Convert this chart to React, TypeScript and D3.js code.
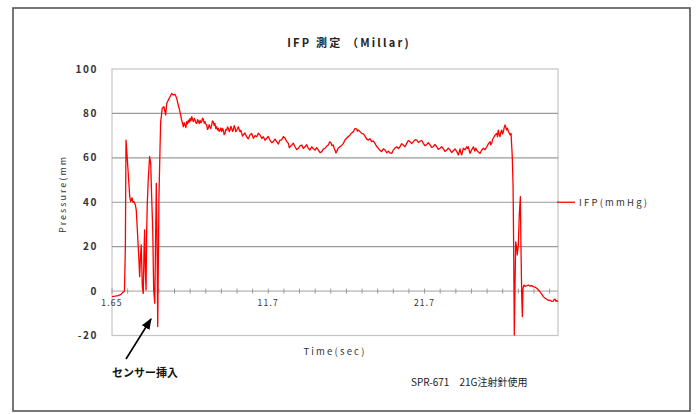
import * as d3 from "d3";

// insertion phase: time (sec) / pressure (mmHg)
const insertTime = [
  1.65, 1.84, 2.04, 2.23, 2.36, 2.45, 2.51, 2.55, 2.61, 2.68, 2.79, 2.85, 2.94, 3.0, 3.06, 3.15, 3.21, 3.28,
  3.37, 3.43, 3.47, 3.53, 3.6, 3.66, 3.71, 3.75, 3.79, 3.84, 3.88, 3.92, 3.98, 4.07, 4.14, 4.2, 4.27, 4.33,
  4.4, 4.46, 4.5, 4.54, 4.59, 4.63, 4.67, 4.74, 4.78, 4.83, 4.88, 4.99, 5.1, 5.17, 5.27, 5.38, 5.49, 5.59,
  5.7, 5.81, 5.91, 6.02, 6.13,
];
const insertValue = [
  -2.5, -2.3, -2.0, -1.5, -0.5, 0, 20, 68, 62, 54.5, 42.5, 40.3, 42, 40, 40.3, 38.8, 36.5, 27.5,
  15.5, 6.5, 14, 20.8, 2, -1, 18.5, 27.5, 9.5, 0.5, 27.5, 39.6, 50, 60.5, 57.5, 42.5, 27.5, 0.5,
  -5.5, 27.5, 48.5, 27.5, -16, 12.5, 42.5, 65, 76.3, 79, 82.3, 83, 79.3, 84.5, 86, 87.5, 89, 88.3,
  88.6, 86.8, 83.8, 80.8, 77,
];

// plateau phase
const plateauTime = [
  6.24, 6.29, 6.34, 6.4, 6.45, 6.5, 6.56, 6.61, 6.67, 6.72, 6.78, 6.83, 6.88, 6.94, 6.99, 7.04, 7.1, 7.15,
  7.2, 7.26, 7.31, 7.36, 7.42, 7.47, 7.52, 7.58, 7.63, 7.68, 7.74, 7.79, 7.84, 7.9, 7.95, 8.0, 8.06, 8.11,
  8.16, 8.22, 8.27, 8.32, 8.38, 8.43, 8.49, 8.54, 8.6, 8.65, 8.7, 8.76, 8.81, 8.86, 8.92, 8.97, 9.03, 9.08,
  9.13, 9.19, 9.24, 9.29, 9.35, 9.4, 9.45, 9.51, 9.56, 9.61, 9.67, 9.72, 9.77, 9.83, 9.88, 9.93, 9.99, 10.04,
  10.09, 10.2, 10.31, 10.41, 10.52, 10.63, 10.74, 10.85, 10.96, 11.06, 11.17, 11.28, 11.38, 11.49, 11.6,
  11.7, 11.81, 11.92, 12.02, 12.13, 12.24, 12.35, 12.45, 12.56, 12.67, 12.78, 12.89, 12.99, 13.05, 13.1,
  13.21, 13.31, 13.42, 13.53, 13.63, 13.74, 13.85, 13.95, 14.06, 14.17, 14.27, 14.38, 14.49, 14.6, 14.71,
  14.81, 14.92, 15.03, 15.14, 15.24, 15.35, 15.46, 15.56, 15.65, 15.73, 15.8, 15.88, 15.94, 15.99, 16.05,
  16.1, 16.2, 16.31, 16.42, 16.53, 16.63, 16.74, 16.85, 16.96, 17.06, 17.17, 17.28, 17.39, 17.44, 17.49,
  17.6, 17.71, 17.82, 17.92, 18.03, 18.13, 18.24, 18.35, 18.45, 18.56, 18.67, 18.78, 18.88, 18.99, 19.1,
  19.21, 19.31, 19.42, 19.53, 19.64, 19.74, 19.85, 19.96, 20.07, 20.17, 20.28, 20.38, 20.49, 20.6, 20.7,
  20.81, 20.92, 21.03, 21.14, 21.25, 21.35, 21.46, 21.57, 21.67, 21.78, 21.89, 21.99, 22.1, 22.21, 22.31,
  22.42, 22.53, 22.63, 22.74, 22.85, 22.96, 23.06, 23.17, 23.28, 23.39, 23.49, 23.6, 23.71, 23.82, 23.92,
  23.98, 24.03, 24.08, 24.14, 24.19, 24.24, 24.35, 24.46, 24.51, 24.56, 24.62, 24.67, 24.78, 24.89, 24.94,
  24.99, 25.04, 25.1, 25.21, 25.32, 25.42, 25.53, 25.64, 25.75, 25.85, 25.96, 26.01, 26.07, 26.12, 26.17,
  26.28, 26.39, 26.44, 26.49, 26.55, 26.6, 26.65, 26.71, 26.76, 26.81, 26.87, 26.92, 26.97, 27.03, 27.08,
  27.14, 27.19, 27.25, 27.31,
];
const plateauValue = [
  74, 75.8, 74.8, 73.6, 76.3, 75.2, 77, 76, 77.8, 76.5, 78.5, 77.2, 76.3, 77.8, 77, 75.8, 75.5, 77.2,
  76.6, 75.4, 77, 75.8, 76.3, 77.9, 77.4, 75.6, 76.3, 75.2, 74.8, 72.8, 73.3, 74.9, 74, 73.2, 74.8, 76.6,
  76.3, 74.6, 75.5, 73.2, 74, 72.6, 73.3, 71.9, 72.5, 73.5, 71.8, 73.2, 72.5, 70.4, 71, 72.8, 72.5, 73.9,
  73.3, 71.8, 72.5, 74.2, 73.3, 71.9, 72.5, 74.5, 73.6, 71.8, 72.5, 73.2, 74, 72.6, 71.8, 72.4, 71, 69.8,
  70.3, 71.2, 69.5, 68.6, 70.3, 71, 68.8, 70, 69.5, 71.1, 70.3, 68.7, 69.5, 67.9, 68.8,
  69.6, 68, 66.8, 67.3, 68.4, 67.3, 66.2, 68, 68, 69.6, 68.8, 67.3, 66.5, 64.6, 65,
  65.8, 66.6, 65, 63.7, 64.3, 65.4, 65.8, 64.2, 65, 65.9, 64.3, 63.5, 65, 64.1, 63.5,
  64.6, 63.5, 62.3, 62.8, 63.9, 64.3, 65.3, 65.8, 67.2, 66.8, 65.4, 65.8, 64.2, 63.5, 62.2,
  62.8, 64.4, 65, 65.6, 66.5, 68, 68.8, 69.6, 70.3, 71.2, 71.8, 73.2, 72.9, 72, 72.5,
  71.8, 71, 70.8, 69.8, 68.4, 68, 68.6, 67.3, 67.6, 66.5, 65.1, 64.3, 63.4, 62.8, 64.1,
  63.5, 62.3, 63, 62.2, 62, 63.5, 64.4, 65, 64.2, 65, 66.4, 65.8, 65, 66.5, 67.8,
  67.3, 66.4, 67.3, 68.2, 68, 66.9, 67.5, 67.8, 66.5, 65.4, 66, 66.8, 65.8, 64.7, 65,
  66, 65, 63.8, 64.3, 65, 64, 62.9, 63.5, 64.3, 63.5, 62.4, 63.2, 64, 62.8, 61.3,
  62.6, 64, 62.4, 61.3, 62.8, 64.3, 63.6, 65, 64.2, 65, 63.4, 62, 63.6, 65, 63.8,
  63, 64.4, 63.5, 62.6, 62, 63.4, 64.3, 63.7, 65, 66.3, 67.3, 65.9, 66.5, 68.2, 68.8,
  70.2, 71, 69.4, 72.5, 70.6, 69.5, 71.4, 72.5, 70.8, 71.5, 73.6, 74.8, 73.9, 72.5, 73.4,
  71.8, 71.2, 70.3, 71,
];

// removal phase
const removeTime = [
  27.35, 27.39, 27.44, 27.48, 27.52, 27.57, 27.61, 27.68, 27.71, 27.78, 27.84, 27.91, 27.95, 28.0, 28.04,
  28.08, 28.13, 28.22, 28.32, 28.43, 28.53, 28.64, 28.74, 28.85, 28.96, 29.06, 29.17, 29.28, 29.39, 29.5,
  29.61, 29.71, 29.82, 29.92, 30.03, 30.09, 30.14, 30.2, 30.27, 30.33,
];
const removeValue = [
  65.8, 60.5, 47.8, 19.3, -19.8, 4.2, 22.2, 19.3, 16.3, 20.8, 34.3, 42.5, 19.3, -3.2, -11.5,
  1.3, 2.7, 2.1, 2.4, 2.7, 2.2, 2.5, 2, 1.8, 1.3, 0.6, -0.3, -1.4, -2.5, -3.2,
  -3.7, -4.2, -4.1, -4.6, -4.5, -3.7, -3.6, -4.6, -4.3, -4.8,
];

const yTicks = [100, 80, 60, 40, 20, 0, -20];
const gridValues = [80, 60, 40, 20];
const xLabelTimes = [1.65, 11.7, 21.75];
const xLabels = ["1.65", "11.7", "21.7"];
const tickStep = 1.005;

const times = [...insertTime, ...plateauTime, ...removeTime];
const values = [...insertValue, ...plateauValue, ...removeValue];
const series = times.map((t, i) => ({ t, v: values[i] }));

const W = 699;
const H = 414;
const plot = { left: 112, right: 558, top: 69, bottom: 335.5 };
const font = "'Noto Sans CJK JP', 'DejaVu Sans', sans-serif";

export default function App() {
  const x = d3.scaleLinear().domain([1.65, 30.33]).range([plot.left, plot.right]);
  const y = d3.scaleLinear().domain([-20, 100]).range([plot.bottom, plot.top]);
  const line = d3
    .line<{ t: number; v: number }>()
    .x((d) => x(d.t))
    .y((d) => y(d.v));
  const minorTicks = d3.range(1.65, 30.33, tickStep);

  return (
    <svg
      width={W}
      height={H}
      style={{ position: "absolute", left: 0, top: 0, background: "#fff" }}
      fontFamily={font}
    >
      <defs>
        <clipPath id="ylab">
          <rect x={50} y={156} width={30} height={90} />
        </clipPath>
        <marker id="arrow" viewBox="0 0 10 10" refX={9} refY={5} markerWidth={7} markerHeight={7} orient="auto">
          <path d="M0,1 L10,5 L0,9 z" fill="#000" />
        </marker>
      </defs>
      <rect x={13} y={8} width={677} height={403} fill="#fff" stroke="#555" strokeWidth={1.6} />

      <text x={349} y={47} textAnchor="middle" fontSize={11} fontWeight="bold" letterSpacing={2.2} fill="#222">
        IFP 測定 （Millar)
      </text>

      {/* plot area */}
      <rect
        x={plot.left}
        y={plot.top}
        width={plot.right - plot.left}
        height={plot.bottom - plot.top}
        fill="none"
        stroke="#c4c4c4"
        strokeWidth={1.2}
      />
      {gridValues.map((g) => (
        <line key={g} x1={plot.left} x2={plot.right} y1={y(g)} y2={y(g)} stroke="#9a9a9a" strokeWidth={1.2} />
      ))}
      <line x1={plot.left} x2={plot.right} y1={y(0)} y2={y(0)} stroke="#a0a0a0" strokeWidth={1} />
      {minorTicks.map((t, i) => (
        <line key={i} x1={x(t)} x2={x(t)} y1={y(0) - 2.5} y2={y(0) + 2.5} stroke="#999" strokeWidth={1} />
      ))}

      {yTicks.map((v) => (
        <text
          key={v}
          x={98}
          y={y(v)}
          dy="0.35em"
          textAnchor="end"
          fontSize={10}
          fontWeight="bold"
          letterSpacing={1.6}
          fill="#333"
        >
          {v < 0 ? `-${Math.abs(v)}` : v}
        </text>
      ))}
      {xLabelTimes.map((t, i) => (
        <text key={i} x={x(t)} y={306} textAnchor="middle" fontSize={8.5} letterSpacing={1.2} fill="#333">
          {xLabels[i]}
        </text>
      ))}

      <g clipPath="url(#ylab)">
        <text
          transform="translate(66,233) rotate(-90)"
          textAnchor="start"
          fontSize={9}
          letterSpacing={2}
          fill="#333"
        >
          Pressure(mmHg)
        </text>
      </g>
      <text x={335} y={355} textAnchor="middle" fontSize={9.5} letterSpacing={2.2} fill="#333">
        Time(sec)
      </text>

      <path d={line(series) ?? ""} fill="none" stroke="#ff0000" strokeWidth={1.3} strokeLinejoin="round" />

      {/* legend */}
      <line x1={557} x2={575} y1={y(40)} y2={y(40)} stroke="#ff0000" strokeWidth={1.3} />
      <text x={579} y={y(40)} dy="0.35em" fontSize={9.5} letterSpacing={2.2} fill="#333">
        IFP(mmHg)
      </text>

      {/* annotation */}
      <line x1={126} y1={359} x2={151} y2={319} stroke="#000" strokeWidth={1.6} markerEnd="url(#arrow)" />
      <text x={112} y={377} fontSize={11} fontWeight="bold" fill="#111">
        センサー挿入
      </text>
      <text x={411} y={386} fontSize={10} fill="#222">
        SPR-671　21G注射針使用
      </text>
    </svg>
  );
}
